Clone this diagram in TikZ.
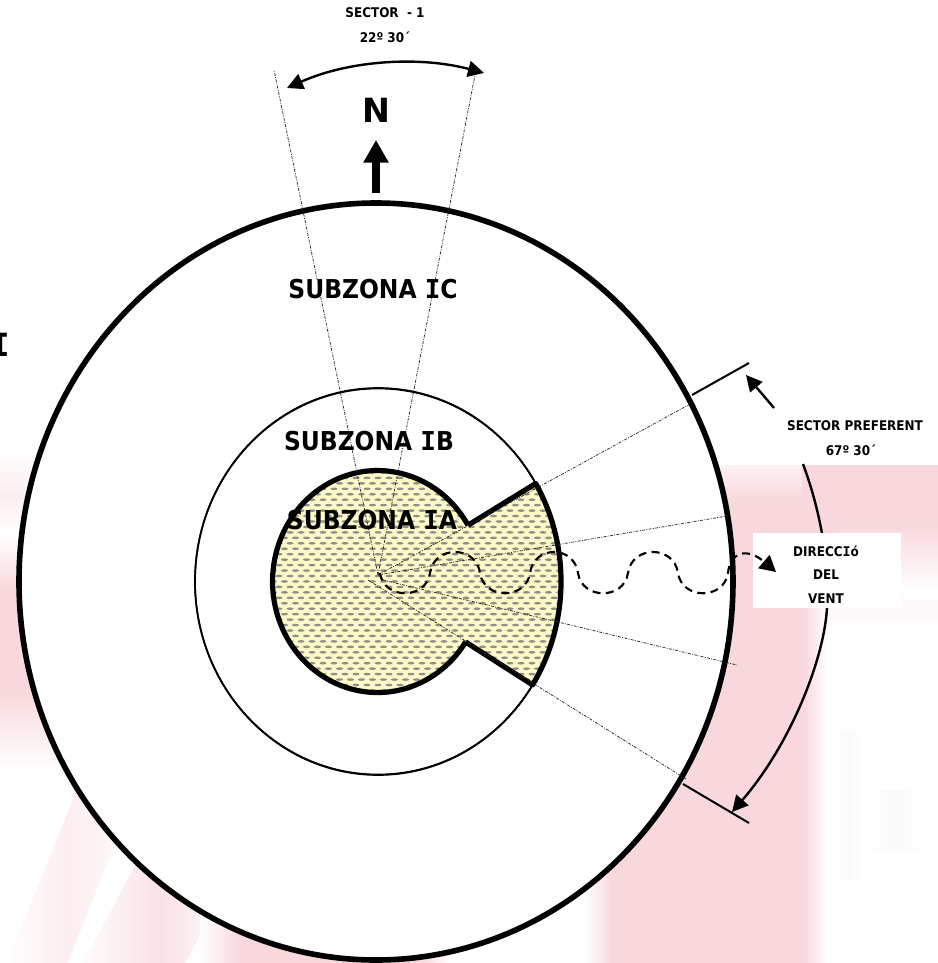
\documentclass[tikz,border=0pt]{standalone}
\usepackage{fontspec}
\setmainfont{DejaVu Sans Condensed}
\newfontfamily\serifI{DejaVu Sans Mono}
\newfontfamily\wideF{DejaVu Sans}
\usetikzlibrary{arrows.meta,shapes.geometric,calc}
\definecolor{wm}{HTML}{F8D8DC}
\definecolor{fillY}{HTML}{FCF9C6}
\definecolor{dotG}{HTML}{8E8E8A}
\newcommand{\SI}{{\serifI\bfseries I}}
\tikzset{
 px/.style={x=0.75pt,y=-0.75pt},
 thick ring/.style={draw=black,line width=4.2pt},
 thin ring/.style={draw=black,line width=1.25pt},
 zone edge/.style={draw=black,line width=3.9pt,line join=round},
 ray/.style={draw=black!85,line width=0.55pt,dash pattern=on 2.2pt off 1pt on 0.7pt off 1pt},
 lab/.style={font=\bfseries,inner sep=0pt,align=center},
 zone/.style={lab,font=\bfseries\fontsize{19.5}{22}\selectfont},
 small/.style={lab,font=\bfseries\fontsize{10}{12}\selectfont},
 bigtip/.style={line width=1.8pt},
 wave/.style={draw=black,line width=1.6pt,dash pattern=on 6pt off 4pt},
}
\begin{document}
\begin{tikzpicture}[px,>={Triangle[length=12pt,width=12pt]}]
\useasboundingbox (0,0) rectangle (938,963);
\fill[white] (0,0) rectangle (938,963);
% faded watermark, right
\fill[wm] (612,500) rectangle (802,963);
\shade[top color=wm!35,bottom color=wm] (612,465) rectangle (802,500);
\shade[left color=white,right color=wm] (585,465) rectangle (612,963);
\shade[left color=wm,right color=white] (802,608) rectangle (828,963);
\fill[wm] (802,465) rectangle (938,525);
\fill[wm] (802,525) rectangle (835,608);
\shade[top color=wm,bottom color=white] (835,525) rectangle (938,590);
\shade[top color=white,bottom color=wm!20] (835,590) rectangle (938,608);
\shade[top color=wm!20,bottom color=white] (828,608) rectangle (938,632);
\shade[left color=black!0,right color=black!1.5] (832,730) rectangle (848,880);
\shade[left color=black!1.5,right color=black!0] (848,730) rectangle (864,880);
\shade[left color=black!0,right color=black!2] (868,790) rectangle (890,850);
\shade[left color=black!2,right color=black!0] (890,790) rectangle (930,850);
% faded watermark, left
\shade[top color=white,bottom color=wm!45] (0,450) rectangle (70,495);
\shade[top color=wm!45,bottom color=white] (0,495) rectangle (70,535);
\shade[top color=white,bottom color=wm] (0,535) rectangle (70,590);
\fill[wm] (0,590) rectangle (70,690);
\shade[top color=wm,bottom color=white] (0,690) rectangle (70,770);
\begin{scope}[shift={(115,770)},rotate=-22]
\shade[left color=white,right color=white,middle color=wm!45] (-28,0) rectangle (28,240);
\end{scope}
\begin{scope}[shift={(205,830)},rotate=-28]
\shade[left color=white,right color=white,middle color=wm!75] (-45,0) rectangle (45,200);
\end{scope}
\shade[left color=white,right color=wm] (200,900) rectangle (240,963);
\fill[wm] (240,900) rectangle (420,963);
\shade[left color=wm,right color=white] (420,900) rectangle (450,963);
\fill[white] (560,0) rectangle (938,464);
% rings
\node[ellipse,minimum width=714*0.75pt,minimum height=757*0.75pt,inner sep=0pt,thick ring,fill=white] (outer) at (376,581.5) {};
\node[ellipse,minimum width=366*0.75pt,minimum height=387*0.75pt,inner sep=0pt,thin ring] (middle) at (378,581.5) {};
% zone IA
\coordinate (IAc) at (377.5,581.5);
\coordinate (J1) at (468,525.2);
\coordinate (K1) at (535.7,483.5);
\coordinate (J2) at (465.6,642);
\fill[fillY] (IAc) ellipse [x radius=105,y radius=111];
\fill[fillY] (J1) -- (K1) arc [start angle=-30.5,end angle=32.4,x radius=183,y radius=193] -- (J2) -- cycle;
\begin{scope}
\clip (IAc) ellipse [x radius=105,y radius=111] (J1) -- (K1) arc [start angle=-30.5,end angle=32.4,x radius=183,y radius=193] -- (J2) -- cycle;
\foreach \j in {0,...,41}{
 \pgfmathsetmacro{\yy}{467+\j*5.45}
 \pgfmathsetmacro{\off}{mod(\j,2)*5.5}
 \foreach \i in {0,...,27}{
  \fill[dotG] ({268+\i*11+\off},\yy) ellipse [x radius=3.5,y radius=1.3];
 }
}
\end{scope}
\draw[zone edge] (J1) arc [start angle=-30.5,end angle=-327,x radius=105,y radius=111];
\draw[zone edge] (J1) -- (K1) arc [start angle=-30.5,end angle=32.4,x radius=183,y radius=193] -- (J2);
% middle ring on top
\draw[thin ring] (378,581.5) ellipse [x radius=183,y radius=193];
% rays
\coordinate (O) at (378,575);
\coordinate (O2) at (368,580);
\coordinate (O3) at (383,580);
\coordinate (R1) at (274,70);
\coordinate (R2) at (475,75);
\coordinate (R3) at (692,403);
\coordinate (R4) at (727,516);
\coordinate (R5) at (737,665);
\coordinate (R6) at (686,779);
\draw[ray] (O) -- (R1);
\draw[ray] (O) -- (R2);
\draw[ray] (O) -- (R3);
\draw[ray] (O) -- (R4);
\draw[ray] (O3) -- (R5);
\draw[ray] (O2) -- (R6);
% ticks and arrows
\coordinate (T1a) at (692,395);
\coordinate (T1b) at (749,363);
\coordinate (T2a) at (683,784);
\coordinate (T2b) at (749,823);
\draw[line width=1.5pt] (T1a) -- (T1b);
\draw[line width=1.5pt] (T2a) -- (T2b);
\coordinate (A1) at (774,408);
\coordinate (A1t) at (746,375);
\draw[->,bigtip] (A1) -- (A1t);
\coordinate (A2) at (803,464);
\coordinate (A2m) at (827,608);
\coordinate (A2t) at (732,812);
\draw[bigtip] (A2) .. controls (822,515) and (830,570) .. (A2m);
\draw[->,bigtip] (A2m) .. controls (824,660) and (790,745) .. (A2t);
% white box of the wind label
\fill[white] (753,533) rectangle (901,608);
% wave
\coordinate (W0) at (380,573);
\coordinate (W1) at (430,573);
\coordinate (W2) at (480,573);
\coordinate (W3) at (530,573);
\coordinate (W4) at (578,573);
\coordinate (W5) at (628,573);
\coordinate (W6) at (678,573);
\coordinate (W7) at (728,573);
\coordinate (W8) at (776,572);
\draw[wave,-{Triangle[length=12pt,width=13pt]}] (W0) .. controls (384,600) and (426,600) .. (W1) .. controls (434,545) and (476,545) .. (W2)
 .. controls (484,600) and (526,600) .. (W3) .. controls (534,545) and (574,545) .. (W4)
 .. controls (582,600) and (624,600) .. (W5) .. controls (632,545) and (674,545) .. (W6)
 .. controls (682,600) and (724,600) .. (W7) .. controls (730,552) and (747,547) .. (W8);
\coordinate (S1) at (287,88);
\coordinate (S2) at (484,73);
\draw[<->,bigtip] (S1) .. controls (350,60) and (420,56) .. (S2);
\coordinate (Na) at (376,193);
\coordinate (Nb) at (376,140);
\draw[-{Triangle[length=17pt,width=18pt]},line width=6pt] (Na) -- (Nb);
\node[lab,font=\wideF\bfseries\fontsize{25}{28}\selectfont] (n) at (376.5,110) {N};
\node[small] (s1) at (385,13) {SECTOR\ \ - 1};
\node[small] (s2) at (385,37) {22º 30´};
\node[small] (p1) at (855,426) {SECTOR PREFERENT};
\node[small] (p2) at (851,450) {67º 30´};
\node[small] (d1) at (826,551) {DIRECC\SI ó};
\node[small] (d2) at (826,575) {DEL};
\node[small] (d3) at (826,599) {VENT};
\node[zone] (ic) at (373,289) {SUBZONA \SI C};
\node[zone] (ib) at (369,441) {SUBZONA \SI B};
\node[zone] (ia) at (372,520) {SUBZONA \SI A};
\node[lab,font=\serifI\bfseries\fontsize{24}{26}\selectfont] (cut) at (0,345) {I};
\end{tikzpicture}
\end{document}
